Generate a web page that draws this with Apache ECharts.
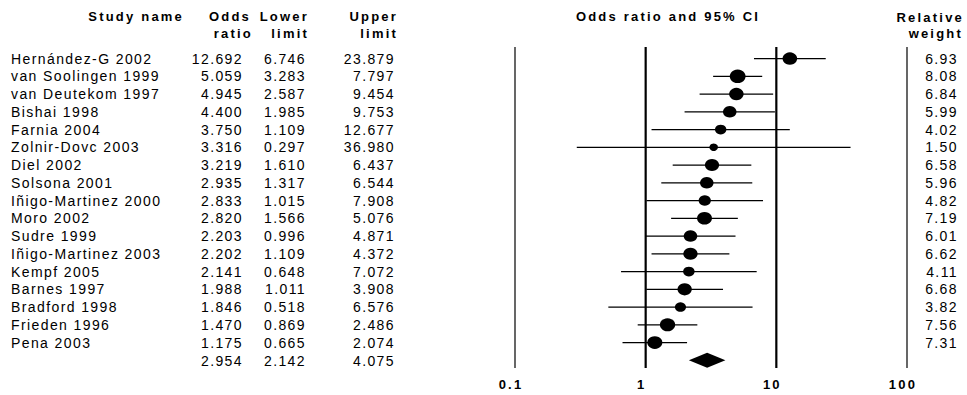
<!DOCTYPE html>
<html>
<head>
<meta charset="utf-8">
<script src="https://cdn.jsdelivr.net/npm/echarts@6/dist/echarts.min.js"></script>
<style>
html,body{margin:0;padding:0;background:#fff;}
#c{width:967px;height:395px;}
#c text{letter-spacing:1.4px;}
#c text[style*="bold"]{letter-spacing:2.2px;}
</style>
</head>
<body>
<div id="c"></div>
<script>
// ---- data ----
const studies = ['Hernández-G 2002','van Soolingen 1999','van Deutekom 1997','Bishai 1998','Farnia 2004','Zolnir-Dovc 2003','Diel 2002','Solsona 2001','Iñigo-Martinez 2000','Moro 2002','Sudre 1999','Iñigo-Martinez 2003','Kempf 2005','Barnes 1997','Bradford 1998','Frieden 1996','Pena 2003'];
const oddsRatio = [12.692,5.059,4.945,4.400,3.750,3.316,3.219,2.935,2.833,2.820,2.203,2.202,2.141,1.988,1.846,1.470,1.175];
const lowerLimit = [6.746,3.283,2.587,1.985,1.109,0.297,1.610,1.317,1.015,1.566,0.996,1.109,0.648,1.011,0.518,0.869,0.665];
const upperLimit = [23.879,7.797,9.454,9.753,12.677,36.980,6.437,6.544,7.908,5.076,4.871,4.372,7.072,3.908,6.576,2.486,2.074];
const relWeight = [6.93,8.08,6.84,5.99,4.02,1.50,6.58,5.96,4.82,7.19,6.01,6.62,4.11,6.68,3.82,7.56,7.31];
const summaryOR = [2.954];
const summaryLower = [2.142];
const summaryUpper = [4.075];
const axisTicks = [0.1, 1, 10, 100];

// ---- styling ----
const FAM = 'Liberation Sans, Arial, Helvetica, sans-serif';
const F_REG = '14px ' + FAM;
const F_BOLD = 'bold 13px ' + FAM;
const COL = {name: 11, or: 243, lo: 306, up: 395, wt: 958};

function txt(s, x, y, align, font) {
  return {type: 'text', x: x, y: y, style: {text: s, textAlign: align, textVerticalAlign: 'middle', font: font || F_REG, fill: '#000'}};
}

const rowData = studies.map((s, i) => [oddsRatio[i], lowerLimit[i], upperLimit[i], relWeight[i], i]);
const sumData = summaryOR.map((v, k) => [v, summaryLower[k], summaryUpper[k], 0, studies.length]);

function renderRow(params, api) {
  const i = api.value(4);
  const y = api.coord([1, i])[1];
  const xo = api.coord([api.value(0), i])[0];
  const xl = api.coord([api.value(1), i])[0];
  const xu = api.coord([api.value(2), i])[0];
  const w = api.value(3);
  const rx = (7 + 1.1 * w) / 2;
  const ry = rx * 0.85;
  return {
    type: 'group',
    children: [
      {type: 'line', shape: {x1: xl, y1: y, x2: xu, y2: y}, style: {stroke: '#000', lineWidth: 1.2}},
      {type: 'circle', x: xo, y: y, scaleY: ry / rx, shape: {cx: 0, cy: 0, r: rx}, style: {fill: '#000'}},
      txt(studies[i], COL.name, y, 'left'),
      txt(api.value(0).toFixed(3), COL.or, y, 'right'),
      txt(api.value(1).toFixed(3), COL.lo, y, 'right'),
      txt(api.value(2).toFixed(3), COL.up, y, 'right'),
      txt(w.toFixed(2), COL.wt, y, 'right')
    ]
  };
}

function renderSummary(params, api) {
  const i = api.value(4);
  const y = api.coord([1, i])[1];
  const xo = api.coord([api.value(0), i])[0];
  const xl = api.coord([api.value(1), i])[0];
  const xu = api.coord([api.value(2), i])[0];
  return {
    type: 'group',
    children: [
      {type: 'polygon', shape: {points: [[xl, y], [xo, y - 7.5], [xu, y], [xo, y + 7.5]]}, style: {fill: '#000'}},
      txt(api.value(0).toFixed(3), COL.or, y + 1, 'right'),
      txt(api.value(1).toFixed(3), COL.lo, y + 1, 'right'),
      txt(api.value(2).toFixed(3), COL.up, y + 1, 'right')
    ]
  };
}

function renderVLine(params, api) {
  const v = api.value(0);
  const x = api.coord([v, 0])[0];
  const cs = params.coordSys;
  const thick = (v === 1 || v === 10);
  return {type: 'line', shape: {x1: x, y1: cs.y, x2: x, y2: cs.y + cs.height},
          style: {stroke: '#000', lineWidth: thick ? 2.2 : 1.2}};
}

const chart = echarts.init(document.getElementById('c'), null, {renderer: 'svg', width: 967, height: 395});
chart.setOption({
  backgroundColor: '#fff',
  animation: false,
  grid: {left: 515, right: 60, top: 47, bottom: 27},
  xAxis: {
    type: 'log', logBase: 10, min: 0.1, max: 100,
    axisLine: {show: false}, axisTick: {show: false}, splitLine: {show: false},
    axisLabel: {
      color: '#000', fontWeight: 'bold', fontSize: 13, fontFamily: FAM, margin: 10,
      padding: [0, 8, 0, 0],
      formatter: v => String(Number(Number(v).toPrecision(3)))
    }
  },
  yAxis: {type: 'value', inverse: true, min: -0.65, max: 17.435, show: false},
  graphic: [
    txt('Study name', 184, 16, 'right', F_BOLD),
    txt('Odds', 251, 16, 'right', F_BOLD),
    txt('ratio', 253, 33, 'right', F_BOLD),
    txt('Lower', 309, 16, 'right', F_BOLD),
    txt('limit', 309, 33, 'right', F_BOLD),
    txt('Upper', 398, 16, 'right', F_BOLD),
    txt('limit', 398, 33, 'right', F_BOLD),
    txt('Odds ratio and 95% CI', 668, 16, 'center', F_BOLD),
    txt('Relative', 964, 17.5, 'right', F_BOLD),
    txt('weight', 963, 33.5, 'right', F_BOLD)
  ],
  series: [
    {type: 'custom', name: 'vlines', data: axisTicks.map(v => [v, 0]), encode: {x: 0, y: 1}, renderItem: renderVLine, silent: true, z: 1},
    {type: 'custom', name: 'studies', data: rowData, encode: {x: [0, 1, 2], y: 4}, renderItem: renderRow, silent: true, z: 2},
    {type: 'custom', name: 'summary', data: sumData, encode: {x: [0, 1, 2], y: 4}, renderItem: renderSummary, silent: true, z: 2}
  ]
});
</script>
</body>
</html>
